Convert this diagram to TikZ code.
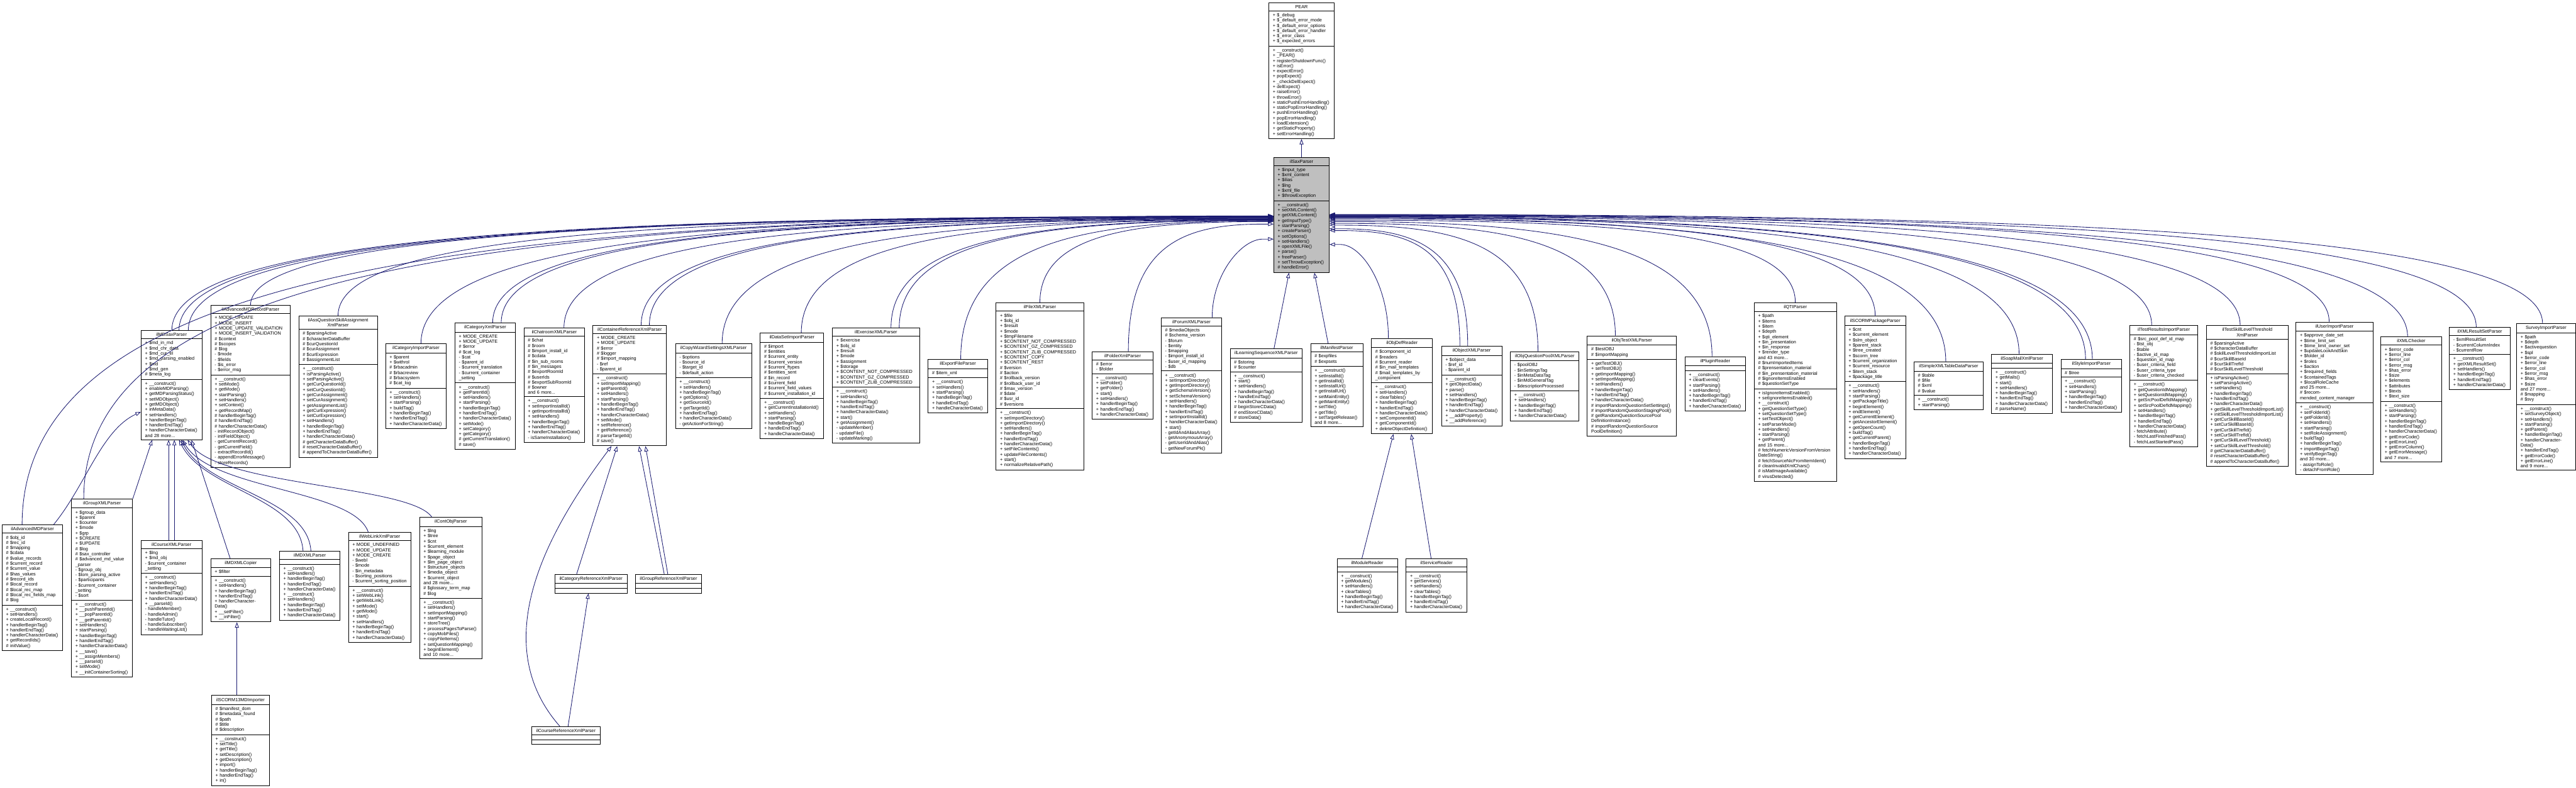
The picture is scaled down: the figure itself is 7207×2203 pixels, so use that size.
\documentclass[tikz,border=0pt]{standalone}
\usepackage{fontspec}
\setmainfont{Liberation Sans}
\usetikzlibrary{shapes.multipart,arrows.meta}
\setlength{\parindent}{0pt}
\definecolor{edgeblue}{HTML}{191970}
\definecolor{basegray}{HTML}{BFBFBF}
\newcommand{\ctitle}[1]{\hfill#1\hfill\null}

\tikzset{
  classbox/.style={draw=black, line width=1.6pt, fill=white, anchor=north west,
    rectangle split, rectangle split parts=3,
    rectangle split empty part height=10pt, rectangle split empty part depth=2.6pt,
    align=left, inner xsep=11pt, inner ysep=6pt,
    font=\fontsize{12.8pt}{14.6pt}\selectfont},
  basebox/.style={classbox, fill=basegray},
  inh/.style={draw=edgeblue, line width=1.5pt,
    -{Triangle[open, length=15pt, width=11pt, line width=1.5pt]}},
}

\begin{document}
\begin{tikzpicture}[x=1pt, y=-1pt]
\useasboundingbox (0,0) rectangle (7207,2203);

\node[classbox, text width=161pt] (PEAR) at (3549,7) {\ctitle{PEAR}
  \nodepart{two} + \$\_debug\\+ \$\_default\_error\_mode\\+ \$\_default\_error\_options\\+ \$\_default\_error\_handler\\+ \$\_error\_class\\+ \$\_expected\_errors
  \nodepart{three} + \_\_construct()\\+ \_PEAR()\\+ registerShutdownFunc()\\+ isError()\\+ expectError()\\+ popExpect()\\+ \_checkDelExpect()\\+ delExpect()\\+ raiseError()\\+ throwError()\\+ staticPushErrorHandling()\\+ staticPopErrorHandling()\\+ pushErrorHandling()\\+ popErrorHandling()\\+ loadExtension()\\+ getStaticProperty()\\+ setErrorHandling()};

\node[basebox, text width=133pt] (ilSaxParser) at (3563,439) {\ctitle{ilSaxParser}
  \nodepart{two} + \$input\_type\\+ \$xml\_content\\+ \$ilias\\+ \$lng\\+ \$xml\_file\\+ \$throwException
  \nodepart{three} + \_\_construct()\\+ setXMLContent()\\+ getXMLContent()\\+ getInputType()\\+ startParsing()\\+ createParser()\\+ setOptions()\\+ setHandlers()\\+ openXMLFile()\\+ parse()\\+ freeParser()\\+ setThrowException()\\\# handleError()};
\coordinate (lin) at ([xshift=-30pt]ilSaxParser.west);
\coordinate (rin) at ([xshift=30pt]ilSaxParser.east);

\node[classbox, text width=148pt] (ilMDSaxParser) at (394,924) {\ctitle{ilMDSaxParser}
  \nodepart{two} + \$md\_in\_md\\+ \$md\_chr\_data\\+ \$md\_cur\_el\\+ \$md\_parsing\_enabled\\+ \$md\\+ \$md\_gen\\\# \$meta\_log
  \nodepart{three} + \_\_construct()\\+ enableMDParsing()\\+ getMDParsingStatus()\\+ setMDObject()\\+ getMDObject()\\+ inMetaData()\\+ setHandlers()\\+ handlerBeginTag()\\+ handlerEndTag()\\+ handlerCharacterData()\\and 28 more...};

\node[classbox, text width=148pt] (ilAdvancedMDParser) at (5,1468) {\ctitle{ilAdvancedMDParser}
  \nodepart{two} \# \$obj\_id\\\# \$rec\_id\\\# \$mapping\\\# \$cdata\\\# \$value\_records\\\# \$current\_record\\\# \$current\_value\\\# \$has\_values\\\# \$record\_ids\\\# \$local\_record\\\# \$local\_rec\_map\\\# \$local\_rec\_fields\_map\\\# \$log
  \nodepart{three} + \_\_construct()\\+ setHandlers()\\+ createLocalRecord()\\+ handlerBeginTag()\\+ handlerEndTag()\\+ handlerCharacterData()\\+ getRecordIds()\\\# initValue()};

\node[classbox, text width=149pt] (ilGroupXMLParser) at (199,1395) {\ctitle{ilGroupXMLParser}
  \nodepart{two} + \$group\_data\\+ \$parent\\+ \$counter\\+ \$mode\\+ \$grp\\+ \$CREATE\\+ \$UPDATE\\\# \$log\\\# \$sax\_controller\\\# \$advanced\_md\_value\\\_parser\\- \$group\_obj\\- \$lom\_parsing\_active\\- \$participants\\- \$current\_container\\\_setting\\- \$sort
  \nodepart{three} + \_\_construct()\\+ \_\_pushParentId()\\+ \_\_popParentId()\\+ \_\_getParentId()\\+ setHandlers()\\+ startParsing()\\+ handlerBeginTag()\\+ handlerEndTag()\\+ handlerCharacterData()\\+ \_\_save()\\+ \_\_assignMembers()\\+ \_\_parseId()\\+ setMode()\\+ \_\_initContainerSorting()};

\node[classbox, text width=148pt] (ilCourseXMLParser) at (394,1511) {\ctitle{ilCourseXMLParser}
  \nodepart{two} + \$lng\\+ \$md\_obj\\- \$current\_container\\\_setting
  \nodepart{three} + \_\_construct()\\+ setHandlers()\\+ handlerBeginTag()\\+ handlerEndTag()\\+ handlerCharacterData()\\+ \_\_parseId()\\- handleMember()\\- handleAdmin()\\- handleTutor()\\- handleSubscriber()\\- handleWaitingList()};

\node[classbox, text width=200pt] (ilAdvancedMDRecordParser) at (589,854) {\ctitle{ilAdvancedMDRecordParser}
  \nodepart{two} + MODE\_UPDATE\\+ MODE\_INSERT\\+ MODE\_UPDATE\_VALIDATION\\+ MODE\_INSERT\_VALIDATION\\\# \$context\\\# \$scopes\\\# \$log\\- \$mode\\- \$fields\\- \$is\_error\\- \$error\_msg
  \nodepart{three} + \_\_construct()\\+ setMode()\\+ getMode()\\+ startParsing()\\+ setHandlers()\\+ setContext()\\+ getRecordMap()\\\# handlerBeginTag()\\\# handlerEndTag()\\\# handlerCharacterData()\\- initRecordObject()\\- initFieldObject()\\- getCurrentRecord()\\- getCurrentField()\\- extractRecordId()\\- appendErrorMessage()\\- storeRecords()};

\node[classbox, text width=198pt] (ilAssQuestionSkillAssignmentXmlParser) at (835,883) {\ctitle{ilAssQuestionSkillAssignment}\\\ctitle{XmlParser}
  \nodepart{two} \# \$parsingActive\\\# \$characterDataBuffer\\\# \$curQuestionId\\\# \$curAssignment\\\# \$curExpression\\\# \$assignmentList
  \nodepart{three} + \_\_construct()\\+ isParsingActive()\\+ setParsingActive()\\+ getCurQuestionId()\\+ setCurQuestionId()\\+ getCurAssignment()\\+ setCurAssignment()\\+ getAssignmentList()\\+ getCurExpression()\\+ setCurExpression()\\+ setHandlers()\\+ handlerBeginTag()\\+ handlerEndTag()\\+ handlerCharacterData()\\\# getCharacterDataBuffer()\\\# resetCharacterDataBuffer()\\\# appendToCharacterDataBuffer()};

\node[classbox, text width=148pt] (ilCategoryImportParser) at (1078,961) {\ctitle{ilCategoryImportParser}
  \nodepart{two} + \$parent\\+ \$withrol\\\# \$rbacadmin\\\# \$rbacreview\\\# \$rbacsystem\\\# \$cat\_log
  \nodepart{three} + \_\_construct()\\+ setHandlers()\\+ startParsing()\\+ buildTag()\\+ handlerBeginTag()\\+ handlerEndTag()\\+ handlerCharacterData()};

\node[classbox, text width=146pt] (ilMDXMLCopier) at (589,1562) {\ctitle{ilMDXMLCopier}
  \nodepart{two} + \$filter
  \nodepart{three} + \_\_construct()\\+ setHandlers()\\+ handlerBeginTag()\\+ handlerEndTag()\\+ handlerCharacterData()\\+ \_\_setFilter()\\+ \_\_inFilter()};

\node[classbox, text width=140pt] (ilSCORM13MDImporter) at (591,1945) {\ctitle{ilSCORM13MDImporter}
  \nodepart{two} \# \$manifest\_dom\\\# \$metadata\_found\\\# \$path\\\# \$title\\\# \$description
  \nodepart{three} + \_\_construct()\\+ setTitle()\\+ getTitle()\\+ setDescription()\\+ getDescription()\\+ import()\\+ handlerBeginTag()\\+ handlerEndTag()\\+ in()};

\node[classbox, text width=148pt] (ilMDXMLParser) at (781,1541) {\ctitle{ilMDXMLParser}
  \nodepart{two}
  \nodepart{three} + \_\_construct()\\+ setHandlers()\\+ handlerBeginTag()\\+ handlerEndTag()\\+ handlerCharacterData()\\+ \_\_construct()\\+ setHandlers()\\+ handlerBeginTag()\\+ handlerEndTag()\\+ handlerCharacterData()};

\node[classbox, text width=153pt] (ilWebLinkXmlParser) at (974,1489) {\ctitle{ilWebLinkXmlParser}
  \nodepart{two} + MODE\_UNDEFINED\\+ MODE\_UPDATE\\+ MODE\_CREATE\\- \$webl\\- \$mode\\- \$in\_metadata\\- \$sorting\_positions\\- \$current\_sorting\_position
  \nodepart{three} + \_\_construct()\\+ setWebLink()\\+ getWebLink()\\+ setMode()\\+ getMode()\\+ start()\\+ setHandlers()\\+ handlerBeginTag()\\+ handlerEndTag()\\+ handlerCharacterData()};

\node[classbox, text width=153pt] (ilContObjParser) at (1173,1447) {\ctitle{ilContObjParser}
  \nodepart{two} + \$lng\\+ \$tree\\+ \$cnt\\+ \$current\_element\\+ \$learning\_module\\+ \$page\_object\\+ \$lm\_page\_object\\+ \$structure\_objects\\+ \$media\_object\\+ \$current\_object\\and 28 more...\\\# \$glossary\_term\_map\\\# \$log
  \nodepart{three} + \_\_construct()\\+ setHandlers()\\+ setImportMapping()\\+ startParsing()\\+ storeTree()\\+ processPagesToParse()\\+ copyMobFiles()\\+ copyFileItems()\\+ setQuestionMapping()\\+ beginElement()\\and 10 more...};

\node[classbox, text width=147pt] (ilCategoryXmlParser) at (1272,903) {\ctitle{ilCategoryXmlParser}
  \nodepart{two} + MODE\_CREATE\\+ MODE\_UPDATE\\\# \$error\\\# \$cat\_log\\- \$cat\\- \$parent\_id\\- \$current\_translation\\- \$current\_container\\\_setting
  \nodepart{three} + \_\_construct()\\+ getParentId()\\+ setHandlers()\\+ startParsing()\\+ handlerBeginTag()\\+ handlerEndTag()\\+ handlerCharacterData()\\+ setMode()\\+ setCategory()\\+ getCategory()\\\# getCurrentTranslation()\\\# save()};

\node[classbox, text width=148pt] (ilChatroomXMLParser) at (1465,917) {\ctitle{ilChatroomXMLParser}
  \nodepart{two} \# \$chat\\\# \$room\\\# \$import\_install\_id\\\# \$cdata\\\# \$in\_sub\_rooms\\\# \$in\_messages\\\# \$exportRoomId\\\# \$userIds\\\# \$exportSubRoomId\\\# \$owner\\and 6 more...
  \nodepart{three} + \_\_construct()\\+ setImportInstallId()\\+ getImportInstallId()\\+ setHandlers()\\+ handlerBeginTag()\\+ handlerEndTag()\\+ handlerCharacterData()\\- isSameInstallation()};

\node[classbox, text width=184pt] (ilContainerReferenceXmlParser) at (1658,910) {\ctitle{ilContainerReferenceXmlParser}
  \nodepart{two} + MODE\_CREATE\\+ MODE\_UPDATE\\\# \$error\\\# \$logger\\\# \$import\_mapping\\- \$ref\\- \$parent\_id
  \nodepart{three} + \_\_construct()\\+ setImportMapping()\\+ getParentId()\\+ setHandlers()\\+ startParsing()\\+ handlerBeginTag()\\+ handlerEndTag()\\+ handlerCharacterData()\\+ setMode()\\+ setReference()\\+ getReference()\\\# parseTargetId()\\\# save()};

\node[classbox, text width=181pt] (ilCategoryReferenceXmlParser) at (1551,1606) {\ctitle{ilCategoryReferenceXmlParser}
  \nodepart{two}
  \nodepart{three}};

\node[classbox, text width=163pt] (ilGroupReferenceXmlParser) at (1777,1606) {\ctitle{ilGroupReferenceXmlParser}
  \nodepart{two}
  \nodepart{three}};

\node[classbox, text width=169pt] (ilCourseReferenceXmlParser) at (1487,2032) {\ctitle{ilCourseReferenceXmlParser}
  \nodepart{two}
  \nodepart{three}};

\node[classbox, text width=191pt] (ilCopyWizardSettingsXMLParser) at (1889,961) {\ctitle{ilCopyWizardSettingsXMLParser}
  \nodepart{two} - \$options\\- \$source\_id\\- \$target\_id\\- \$default\_action
  \nodepart{three} + \_\_construct()\\+ setHandlers()\\+ handlerBeginTag()\\+ getOptions()\\+ getSourceId()\\+ getTargetId()\\+ handlerEndTag()\\+ handlerCharacterData()\\- getActionForString()};

\node[classbox, text width=156pt] (ilDataSetImportParser) at (2126,931) {\ctitle{ilDataSetImportParser}
  \nodepart{two} \# \$import\\\# \$entities\\\# \$current\_entity\\\# \$current\_version\\\# \$current\_ftypes\\\# \$entities\_sent\\\# \$in\_record\\\# \$current\_field\\\# \$current\_field\_values\\\# \$current\_installation\_id
  \nodepart{three} + \_\_construct()\\+ getCurrentInstallationId()\\+ setHandlers()\\+ startParsing()\\+ handleBeginTag()\\+ handleEndTag()\\+ handleCharacterData()};

\node[classbox, text width=222pt] (ilExerciseXMLParser) at (2328,917) {\ctitle{ilExerciseXMLParser}
  \nodepart{two} + \$exercise\\+ \$obj\_id\\+ \$result\\+ \$mode\\+ \$assignment\\+ \$storage\\+ \$CONTENT\_NOT\_COMPRESSED\\+ \$CONTENT\_GZ\_COMPRESSED\\+ \$CONTENT\_ZLIB\_COMPRESSED
  \nodepart{three} + \_\_construct()\\+ setHandlers()\\+ handlerBeginTag()\\+ handlerEndTag()\\+ handlerCharacterData()\\+ start()\\+ getAssignment()\\- updateMember()\\- updateFile()\\- updateMarking()};

\node[classbox, text width=144pt] (ilExportFileParser) at (2596,1005) {\ctitle{ilExportFileParser}
  \nodepart{two} \# \$item\_xml
  \nodepart{three} + \_\_construct()\\+ setHandlers()\\+ startParsing()\\+ handleBeginTag()\\+ handleEndTag()\\+ handleCharacterData()};

\node[classbox, text width=223pt] (ilFileXMLParser) at (2786,847) {\ctitle{ilFileXMLParser}
  \nodepart{two} + \$file\\+ \$obj\_id\\+ \$result\\+ \$mode\\+ \$tmpFilename\\+ \$CONTENT\_NOT\_COMPRESSED\\+ \$CONTENT\_GZ\_COMPRESSED\\+ \$CONTENT\_ZLIB\_COMPRESSED\\+ \$CONTENT\_COPY\\+ \$CONTENT\_REST\\\# \$version\\\# \$action\\\# \$rollback\_version\\\# \$rollback\_user\_id\\\# \$max\_version\\\# \$date\\\# \$usr\_id\\\# \$versions
  \nodepart{three} + \_\_construct()\\+ setImportDirectory()\\+ getImportDirectory()\\+ setHandlers()\\+ handlerBeginTag()\\+ handlerEndTag()\\+ handlerCharacterData()\\+ setFileContents()\\+ updateFileContents()\\+ start()\\+ normalizeRelativePath()};

\node[classbox, text width=148pt] (ilFolderXmlParser) at (3055,983) {\ctitle{ilFolderXmlParser}
  \nodepart{two} \# \$error\\- \$folder
  \nodepart{three} + \_\_construct()\\+ setFolder()\\+ getFolder()\\+ start()\\+ setHandlers()\\+ handlerBeginTag()\\+ handlerEndTag()\\+ handlerCharacterData()};

\node[classbox, text width=147pt] (ilForumXMLParser) at (3248,888) {\ctitle{ilForumXMLParser}
  \nodepart{two} \# \$mediaObjects\\\# \$schema\_version\\- \$forum\\- \$entity\\- \$mapping\\- \$import\_install\_id\\- \$user\_id\_mapping\\- \$db
  \nodepart{three} + \_\_construct()\\+ setImportDirectory()\\+ getImportDirectory()\\+ getSchemaVersion()\\+ setSchemaVersion()\\+ setHandlers()\\+ handlerBeginTag()\\+ handlerEndTag()\\+ setImportInstallId()\\+ handlerCharacterData()\\+ start()\\- getIdAndAliasArray()\\- getAnonymousArray()\\- getUserIdAndAlias()\\- getNewForumPk()};

\node[classbox, text width=179pt] (ilLearningSequenceXMLParser) at (3441,975) {\ctitle{ilLearningSequenceXMLParser}
  \nodepart{two} \# \$storing\\\# \$counter
  \nodepart{three} + \_\_construct()\\+ start()\\+ setHandlers()\\+ handleBeginTag()\\+ handleEndTag()\\+ handleCharacterData()\\\# beginStoreCData()\\\# endStoreCData()\\\# storeData()};

\node[classbox, text width=124pt] (ilManifestParser) at (3666,961) {\ctitle{ilManifestParser}
  \nodepart{two} \# \$expfiles\\\# \$expsets
  \nodepart{three} + \_\_construct()\\+ setInstallId()\\+ getInstallId()\\+ setInstallUrl()\\+ getInstallUrl()\\+ setMainEntity()\\+ getMainEntity()\\+ setTitle()\\+ getTitle()\\+ setTargetRelease()\\and 8 more...};

\node[classbox, text width=149pt] (ilObjDefReader) at (3836,946) {\ctitle{ilObjDefReader}
  \nodepart{two} \# \$component\_id\\\# \$readers\\\# \$current\_reader\\\# \$in\_mail\_templates\\\# \$mail\_templates\_by\\\_component
  \nodepart{three} + \_\_construct()\\+ setHandlers()\\+ clearTables()\\+ handlerBeginTag()\\+ handlerEndTag()\\+ handlerCharacterData()\\+ setComponentId()\\+ getComponentId()\\+ deleteObjectDefinition()};

\node[classbox, text width=147pt] (ilObjectXMLParser) at (4032,968) {\ctitle{ilObjectXMLParser}
  \nodepart{two} + \$object\_data\\- \$ref\_id\\- \$parent\_id
  \nodepart{three} + \_\_construct()\\+ getObjectData()\\+ parse()\\+ setHandlers()\\+ handlerBeginTag()\\+ handlerEndTag()\\+ handlerCharacterData()\\+ \_\_addProperty()\\+ \_\_addReference()};

\node[classbox, text width=147pt] (ilModuleReader) at (3740,1562) {\ctitle{ilModuleReader}
  \nodepart{two}
  \nodepart{three} + \_\_construct()\\+ getModules()\\+ setHandlers()\\+ clearTables()\\+ handlerBeginTag()\\+ handlerEndTag()\\+ handlerCharacterData()};

\node[classbox, text width=148pt] (ilServiceReader) at (3933,1562) {\ctitle{ilServiceReader}
  \nodepart{two}
  \nodepart{three} + \_\_construct()\\+ getServices()\\+ setHandlers()\\+ clearTables()\\+ handlerBeginTag()\\+ handlerEndTag()\\+ handlerCharacterData()};

\node[classbox, text width=170pt] (ilObjQuestionPoolXMLParser) at (4225,983) {\ctitle{ilObjQuestionPoolXMLParser}
  \nodepart{two} - \$poolOBJ\\- \$inSettingsTag\\- \$inMetaDataTag\\- \$inMdGeneralTag\\- \$descriptionProcessed
  \nodepart{three} + \_\_construct()\\+ setHandlers()\\+ handlerBeginTag()\\+ handlerEndTag()\\+ handlerCharacterData()};

\node[classbox, text width=227pt] (ilObjTestXMLParser) at (4440,939) {\ctitle{ilObjTestXMLParser}
  \nodepart{two} \# \$testOBJ\\\# \$importMapping
  \nodepart{three} + getTestOBJ()\\+ setTestOBJ()\\+ getImportMapping()\\+ setImportMapping()\\+ setHandlers()\\+ handlerBeginTag()\\+ handlerEndTag()\\+ handlerCharacterData()\\\# importRandomQuestionSetSettings()\\\# importRandomQuestionStagingPool()\\\# getRandomQuestionSourcePool\\DefinitionInstance()\\\# importRandomQuestionSource\\PoolDefinition()};

\node[classbox, text width=148pt] (ilPluginReader) at (4713,997) {\ctitle{ilPluginReader}
  \nodepart{two}
  \nodepart{three} + \_\_construct()\\+ clearEvents()\\+ startParsing()\\+ setHandlers()\\+ handlerBeginTag()\\+ handlerEndTag()\\+ handlerCharacterData()};

\node[classbox, text width=208pt] (ilQTIParser) at (4907,846) {\ctitle{ilQTIParser}
  \nodepart{two} + \$path\\+ \$items\\+ \$item\\+ \$depth\\+ \$qti\_element\\+ \$in\_presentation\\+ \$in\_response\\+ \$render\_type\\and 43 more...\\\# \$numImportedItems\\\# \$prensentation\_material\\\# \$in\_prensentation\_material\\\# \$ignoreItemsEnabled\\\# \$questionSetType
  \nodepart{three} + isIgnoreItemsEnabled()\\+ setIgnoreItemsEnabled()\\+ \_\_construct()\\+ getQuestionSetType()\\+ setQuestionSetType()\\+ setTestObject()\\+ setParserMode()\\+ setHandlers()\\+ startParsing()\\+ getParent()\\and 15 more...\\\# fetchNumericVersionFromVersion\\DateString()\\\# fetchSourceNicFromItemIdent()\\\# cleanInvalidXmlChars()\\\# isMatImageAvailable()\\\# virusDetected()};

\node[classbox, text width=149pt] (ilSCORMPackageParser) at (5160,884) {\ctitle{ilSCORMPackageParser}
  \nodepart{two} + \$cnt\\+ \$current\_element\\+ \$slm\_object\\+ \$parent\_stack\\+ \$tree\_created\\+ \$scorm\_tree\\+ \$current\_organization\\+ \$current\_resource\\+ \$item\_stack\\+ \$package\_title
  \nodepart{three} + \_\_construct()\\+ setHandlers()\\+ startParsing()\\+ getPackageTitle()\\+ beginElement()\\+ endElement()\\+ getCurrentElement()\\+ getAncestorElement()\\+ getOpenCount()\\+ buildTag()\\+ getCurrentParent()\\+ handlerBeginTag()\\+ handlerEndTag()\\+ handlerCharacterData()};

\node[classbox, text width=172pt] (ilSimpleXMLTableDataParser) at (5354,1012) {\ctitle{ilSimpleXMLTableDataParser}
  \nodepart{two} \# \$table\\\# \$file\\\# \$xml\\\# \$value
  \nodepart{three} + \_\_construct()\\+ startParsing()};

\node[classbox, text width=148pt] (ilSoapMailXmlParser) at (5571,990) {\ctitle{ilSoapMailXmlParser}
  \nodepart{two}
  \nodepart{three} + \_\_construct()\\+ getMails()\\+ start()\\+ setHandlers()\\+ handlerBeginTag()\\+ handlerEndTag()\\+ handlerCharacterData()\\\# parseName()};

\node[classbox, text width=148pt] (ilStyleImportParser) at (5765,1005) {\ctitle{ilStyleImportParser}
  \nodepart{two} \# \$tree
  \nodepart{three} + \_\_construct()\\+ setHandlers()\\+ startParsing()\\+ handlerBeginTag()\\+ handlerEndTag()\\+ handlerCharacterData()};

\node[classbox, text width=168pt] (ilTestResultsImportParser) at (5958,910) {\ctitle{ilTestResultsImportParser}
  \nodepart{two} \# \$src\_pool\_def\_id\_map\\- \$tst\_obj\\- \$table\\- \$active\_id\_map\\- \$question\_id\_map\\- \$user\_criteria\_field\\- \$user\_criteria\_type\\- \$user\_criteria\_checked
  \nodepart{three} + \_\_construct()\\+ getQuestionIdMapping()\\+ setQuestionIdMapping()\\+ getSrcPoolDefIdMapping()\\+ setSrcPoolDefIdMapping()\\+ setHandlers()\\+ handlerBeginTag()\\+ handlerEndTag()\\+ handlerCharacterData()\\- fetchAttribute()\\- fetchLastFinishedPass()\\- fetchLastStartedPass()};

\node[classbox, text width=207pt] (ilTestSkillLevelThresholdXmlParser) at (6172,910) {\ctitle{ilTestSkillLevelThreshold}\\\ctitle{XmlParser}
  \nodepart{two} \# \$parsingActive\\\# \$characterDataBuffer\\\# \$skillLevelThresholdImportList\\\# \$curSkillBaseId\\\# \$curSkillTrefId\\\# \$curSkillLevelThreshold
  \nodepart{three} + isParsingActive()\\+ setParsingActive()\\+ setHandlers()\\+ handlerBeginTag()\\+ handlerEndTag()\\+ handlerCharacterData()\\+ getSkillLevelThresholdImportList()\\+ initSkillLevelThresholdImportList()\\+ getCurSkillBaseId()\\+ setCurSkillBaseId()\\+ getCurSkillTrefId()\\+ setCurSkillTrefId()\\+ getCurSkillLevelThreshold()\\+ setCurSkillLevelThreshold()\\\# getCharacterDataBuffer()\\\# resetCharacterDataBuffer()\\\# appendToCharacterDataBuffer()};

\node[classbox, text width=193pt] (ilUserImportParser) at (6423,900) {\ctitle{ilUserImportParser}
  \nodepart{two} + \$approve\_date\_set\\+ \$time\_limit\_set\\+ \$time\_limit\_owner\_set\\+ \$updateLookAndSkin\\+ \$folder\_id\\+ \$roles\\+ \$action\\+ \$required\_fields\\+ \$containedTags\\+ \$localRoleCache\\and 25 more...\\\# \$recommended\_content\_manager
  \nodepart{three} + \_\_construct()\\+ setFolderId()\\+ getFolderId()\\+ setHandlers()\\+ startParsing()\\+ setRoleAssignment()\\+ buildTag()\\+ handlerBeginTag()\\+ importBeginTag()\\+ verifyBeginTag()\\and 30 more...\\- assignToRole()\\- detachFromRole()};

\node[classbox, text width=148pt] (ilXMLChecker) at (6660,942) {\ctitle{ilXMLChecker}
  \nodepart{two} + \$error\_code\\+ \$error\_line\\+ \$error\_col\\+ \$error\_msg\\+ \$has\_error\\+ \$size\\+ \$elements\\+ \$attributes\\+ \$texts\\+ \$text\_size
  \nodepart{three} + \_\_construct()\\+ setHandlers()\\+ startParsing()\\+ handlerBeginTag()\\+ handlerEndTag()\\+ handlerCharacterData()\\+ getErrorCode()\\+ getErrorLine()\\+ getErrorColumn()\\+ getErrorMessage()\\and 7 more...};

\node[classbox, text width=148pt] (ilXMLResultSetParser) at (6852,915) {\ctitle{ilXMLResultSetParser}
  \nodepart{two} - \$xmlResultSet\\- \$currentColumnIndex\\- \$currentRow
  \nodepart{three} + \_\_construct()\\+ getXMLResultSet()\\+ setHandlers()\\+ handlerBeginTag()\\+ handlerEndTag()\\+ handlerCharacterData()};

\node[classbox, text width=143pt] (SurveyImportParser) at (7040,905) {\ctitle{SurveyImportParser}
  \nodepart{two} + \$path\\+ \$depth\\+ \$activequestion\\+ \$spl\\+ \$error\_code\\+ \$error\_line\\+ \$error\_col\\+ \$error\_msg\\+ \$has\_error\\+ \$size\\and 27 more...\\\# \$mapping\\\# \$svy
  \nodepart{three} + \_\_construct()\\+ setSurveyObject()\\+ setHandlers()\\+ startParsing()\\+ getParent()\\+ handlerBeginTag()\\+ handlerCharacterData()\\+ handlerEndTag()\\+ getErrorCode()\\+ getErrorLine()\\and 9 more...};

% inheritance
\draw[inh] (ilSaxParser) -- (PEAR);
\draw[inh] ([xshift=22pt]ilLearningSequenceXMLParser.north) -- ([xshift=-35pt]ilSaxParser.south);
\draw[inh] ([xshift=-24pt]ilManifestParser.north) -- ([xshift=36pt]ilSaxParser.south);

\foreach \c/\dx/\ty/\od/\id in {ilAdvancedMDParser/-29/604/735/2100, ilMDSaxParser/1/605/270/1850,
    ilMDSaxParser/21/606/270/1840, ilMDSaxParser/47/607/270/1820, ilGroupXMLParser/-51/605/670/2000,
    ilAdvancedMDRecordParser/0/606/200/1700, ilAssQuestionSkillAssignmentXmlParser/0/607/240/1550,
    ilCategoryImportParser/14/608/300/1400, ilCategoryXmlParser/21/609/250/1290,
    ilCategoryXmlParser/45/610/250/1280, ilChatroomXMLParser/27/611/260/1170,
    ilContainerReferenceXmlParser/32/612/255/1040, ilContainerReferenceXmlParser/55/613/255/1030,
    ilCopyWizardSettingsXMLParser/24/614/295/900, ilDataSetImportParser/26/615/270/770,
    ilExerciseXMLParser/42/616/255/620, ilExerciseXMLParser/65/617/255/610,
    ilExportFileParser/8/618/330/500, ilFileXMLParser/0/620/190/370,
    ilFolderXmlParser/16/627/300/220, ilForumXMLParser/58/669/120/60}
  \draw[inh] ([xshift=\dx pt]\c.north) .. controls +(0,-\od) and +(-\id,0) .. (lin |- 0,\ty) -- (ilSaxParser.west |- 0,\ty);

\foreach \c/\dx/\ty/\od/\id in {ilObjDefReader/-38/684/150/60, ilObjectXMLParser/-33/645/275/200,
    ilObjectXMLParser/-11/640/275/210, ilObjQuestionPoolXMLParser/-19/630/300/330,
    ilObjTestXMLParser/-46/625/270/450, ilPluginReader/-9/620/320/610, ilQTIParser/0/616/200/760,
    ilSCORMPackageParser/0/612/230/880, ilSimpleXMLTableDataParser/-8/610/340/1000,
    ilSoapMailXmlParser/-8/608/320/1130, ilStyleImportParser/-16/607/330/1240,
    ilStyleImportParser/3/606/330/1250, ilTestResultsImportParser/-34/605/250/1360,
    ilTestSkillLevelThresholdXmlParser/-20/604/255/1500, ilUserImportParser/-15/603/250/1650,
    ilXMLChecker/-10/602/285/1780, ilXMLResultSetParser/-10/601/265/1890,
    SurveyImportParser/-10/600/255/2000}
  \draw[inh] ([xshift=\dx pt]\c.north) .. controls +(0,-\od) and +(\id,0) .. (rin |- 0,\ty) -- (ilSaxParser.east |- 0,\ty);

\draw[inh] ([xshift=59pt]ilAdvancedMDParser.north) .. controls +(90,-110) and +(-110,50) .. ([yshift=-75pt]ilMDSaxParser.west);
\draw[inh] (ilGroupXMLParser.north east) -- ([xshift=-54pt]ilMDSaxParser.south);
\draw[inh] ([xshift=-8pt]ilCourseXMLParser.north) -- ([xshift=-8pt]ilMDSaxParser.south);
\draw[inh] ([xshift=8pt]ilCourseXMLParser.north) -- ([xshift=8pt]ilMDSaxParser.south);
\draw[inh] ([xshift=-19pt]ilMDXMLParser.north) .. controls +(-10,-150) and +(70,140) .. ([xshift=21pt]ilMDSaxParser.south);
\draw[inh] ([xshift=3pt]ilMDXMLParser.north) .. controls +(-10,-150) and +(70,140) .. ([xshift=27pt]ilMDSaxParser.south);
\draw[inh] ([xshift=-32pt]ilWebLinkXmlParser.north) .. controls +(-40,-120) and +(80,140) .. ([xshift=31pt]ilMDSaxParser.south);
\draw[inh] ([xshift=-53pt]ilContObjParser.north) .. controls +(-60,-90) and +(90,130) .. ([xshift=45pt]ilMDSaxParser.south);
\draw[inh] ([xshift=-30pt]ilMDXMLCopier.north) -- ([xshift=56pt]ilMDSaxParser.south);
\draw[inh] ([xshift=-10pt]ilSCORM13MDImporter.north) -- ([xshift=-10pt]ilSCORM13MDImporter.north |- ilMDXMLCopier.south);

\draw[inh] ([xshift=-40pt]ilCategoryReferenceXmlParser.north) -- ([xshift=-35pt]ilContainerReferenceXmlParser.south);
\draw[inh] ([xshift=6pt]ilCourseReferenceXmlParser.north) -- ([xshift=-7pt]ilCategoryReferenceXmlParser.south);
\draw[inh] ([xshift=-17pt]ilCourseReferenceXmlParser.north) .. controls +(-220,-250) and +(-150,200) .. ([xshift=-51pt]ilContainerReferenceXmlParser.south);
\draw[inh] ([xshift=-12pt]ilGroupReferenceXmlParser.north) -- ([xshift=26pt]ilContainerReferenceXmlParser.south);
\draw[inh] ([xshift=-2pt]ilGroupReferenceXmlParser.north) -- ([xshift=44pt]ilContainerReferenceXmlParser.south);

\draw[inh] ([xshift=-15pt]ilModuleReader.north) -- ([xshift=-24pt]ilObjDefReader.south);
\draw[inh] ([xshift=-15pt]ilServiceReader.north) -- ([xshift=26pt]ilObjDefReader.south);
\end{tikzpicture}
\end{document}
